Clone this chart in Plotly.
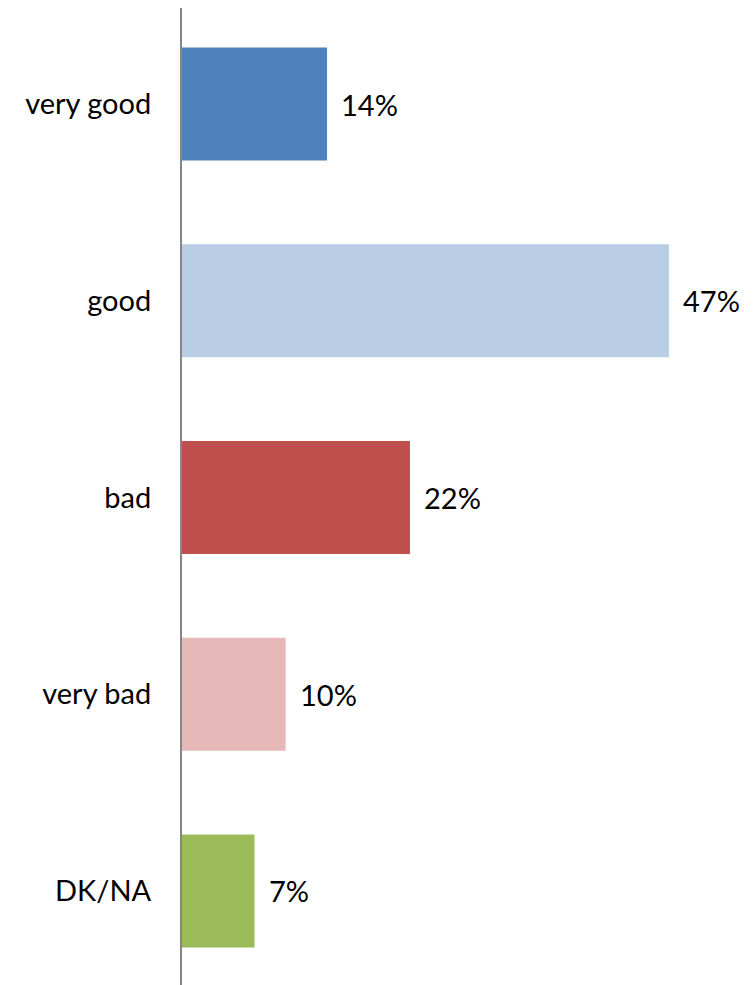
import plotly.graph_objects as go

categories = ["very good", "good", "bad", "very bad", "DK/NA"]
values = [14, 47, 22, 10, 7]
labels = ["14%", "47%", "22%", "10%", "7%"]
colors = ["#4F81BD", "#B9CDE5", "#C0504D", "#E6B9B8", "#9BBB59"]

FONT = "Lato, Carlito, Calibri, sans-serif"
FS = 29

fig = go.Figure(go.Bar(
    x=values, y=categories, orientation="h",
    marker=dict(color=colors, line=dict(width=0)),
    hoverinfo="skip",
))

for c, v, t in zip(categories, values, labels):
    fig.add_annotation(x=v, y=c, text=t, showarrow=False, xanchor="left",
                       yanchor="middle", xshift=12,
                       font=dict(family=FONT, size=FS, color="#000000"))

fig.update_layout(
    width=746, height=977,
    margin=dict(l=174, r=0, t=0, b=0),
    paper_bgcolor="white", plot_bgcolor="white",
    bargap=0.426,
    showlegend=False,
    font=dict(family=FONT, size=FS, color="#000000"),
)
fig.update_xaxes(range=[0, 55.2], visible=False, fixedrange=True)
fig.update_yaxes(
    type="category", categoryorder="array", categoryarray=categories,
    range=[4.478, -0.488],
    showline=True, linecolor="#868686", linewidth=2,
    showgrid=False, zeroline=False, ticks="",
    ticklabelstandoff=23,
    tickfont=dict(family=FONT, size=FS, color="#000000"),
)

fig.write_html("out.html")
